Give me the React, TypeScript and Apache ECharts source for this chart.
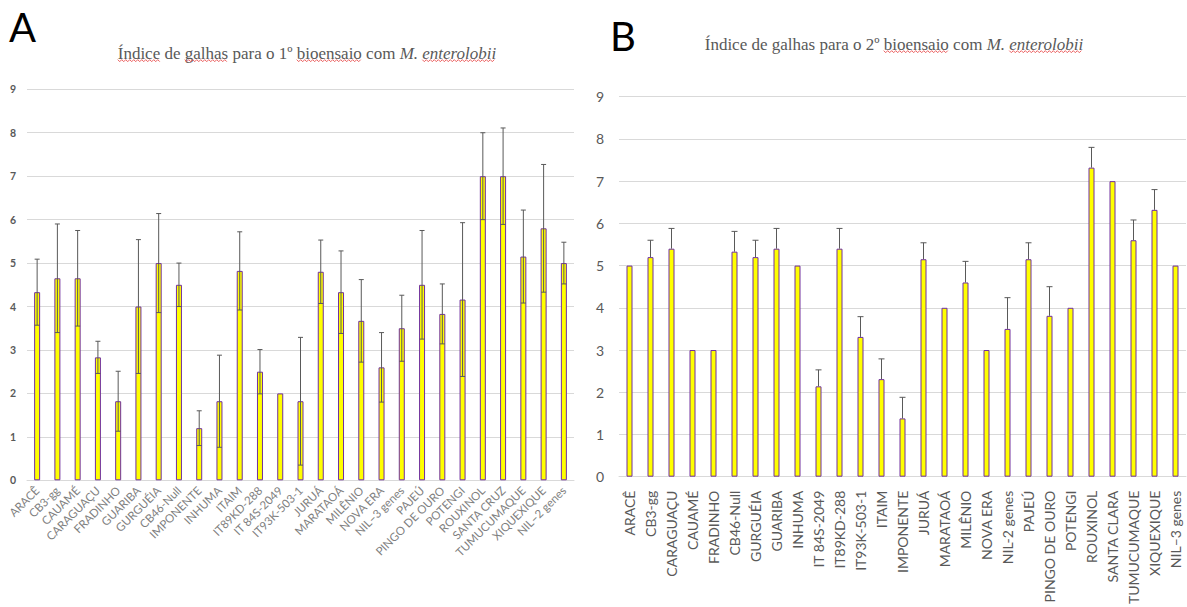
import React, { useEffect, useRef } from "react";
import * as echarts from "echarts";

const catsA = ["ARACÊ", "CB3-gg", "CAUAMÉ", "CARAGUAÇU", "FRADINHO", "GUARIBA", "GURGUÉIA", "CB46-Null", "IMPONENTE", "INHUMA", "ITAIM", "IT89KD-288", "IT 84S-2049", "IT93K-503-1", "JURUÁ", "MARATAOÁ", "MILÊNIO", "NOVA ERA", "NIL–3 genes", "PAJEÚ", "PINGO DE OURO", "POTENGI", "ROUXINOL", "SANTA CRUZ", "TUMUCUMAQUE", "XIQUEXIQUE", "NIL–2 genes"];
const valuesA = [4.33, 4.65, 4.65, 2.83, 1.82, 4.0, 5.0, 4.5, 1.2, 1.82, 4.82, 2.5, 2.0, 1.82, 4.8, 4.33, 3.67, 2.6, 3.5, 4.5, 3.83, 4.16, 7.0, 7.0, 5.15, 5.8, 5.0];
const errorsA = [0.76, 1.25, 1.1, 0.37, 0.69, 1.54, 1.14, 0.5, 0.4, 1.06, 0.9, 0.51, 0, 1.47, 0.73, 0.95, 0.95, 0.8, 0.76, 1.25, 0.69, 1.77, 1.0, 1.11, 1.07, 1.47, 0.48];

const catsB = ["ARACÊ", "CB3-gg", "CARAGUAÇU", "CAUAMÉ", "FRADINHO", "CB46-Null", "GURGUÉIA", "GUARIBA", "INHUMA", "IT 84S-2049", "IT89KD-288", "IT93K-503-1", "ITAIM", "IMPONENTE", "JURUÁ", "MARATAOÁ", "MILÊNIO", "NOVA ERA", "NIL-2 genes", "PAJEÚ", "PINGO DE OURO", "POTENGI", "ROUXINOL", "SANTA CLARA", "TUMUCUMAQUE", "XIQUEXIQUE", "NIL–3 genes"];
const valuesB = [5.0, 5.2, 5.4, 3.0, 3.0, 5.33, 5.2, 5.4, 5.0, 2.14, 5.4, 3.31, 2.31, 1.38, 5.15, 4.0, 4.6, 3.0, 3.5, 5.15, 3.81, 4.0, 7.32, 7.0, 5.6, 6.32, 5.0];
const errorsB = [0, 0.4, 0.48, 0, 0, 0.48, 0.4, 0.48, 0, 0.39, 0.48, 0.48, 0.48, 0.5, 0.39, 0, 0.5, 0, 0.74, 0.39, 0.69, 0, 0.48, 0, 0.48, 0.48, 0];

const yTicks = [0, 1, 2, 3, 4, 5, 6, 7, 8, 9];

const titleA = "Índice de galhas para o 1º bioensaio com ";
const titleB = "Índice de galhas para o 2º bioensaio com ";
const species = "M. enterolobii";
const flaggedA = ["Índice", "galhas", "bioensaio"];
const flaggedB = ["bioensaio"];

const TITLE_SIZE = 17;
const TITLE_FONT = "Liberation Serif";

function makeErrorRenderer(cap: number, both: boolean) {
  return (params: any, api: any) => {
    const x = api.value(0);
    const lo = api.value(1);
    const hi = api.value(2);
    const pLo = api.coord([x, lo]);
    const pHi = api.coord([x, hi]);
    const style = { stroke: "#595959", lineWidth: 1 };
    const children: any[] = [
      { type: "line", shape: { x1: pLo[0], y1: pLo[1], x2: pHi[0], y2: pHi[1] }, style },
      { type: "line", shape: { x1: pHi[0] - cap, y1: pHi[1], x2: pHi[0] + cap, y2: pHi[1] }, style },
    ];
    if (both) {
      children.push({ type: "line", shape: { x1: pLo[0] - cap, y1: pLo[1], x2: pLo[0] + cap, y2: pLo[1] }, style });
    }
    return { type: "group", children };
  };
}

function measure(text: string, italic: boolean): number {
  const c = document.createElement("canvas").getContext("2d");
  if (!c) return text.length * TITLE_SIZE * 0.45;
  c.font = (italic ? "italic " : "") + TITLE_SIZE + 'px "' + TITLE_FONT + '"';
  return c.measureText(text).width;
}

function squiggle(x0: number, x1: number, y: number) {
  const pts: number[][] = [];
  let up = true;
  for (let x = x0; x <= x1; x += 2) {
    pts.push([x, up ? y - 1 : y + 1]);
    up = !up;
  }
  return {
    type: "polyline",
    shape: { points: pts },
    style: { stroke: "#e84c4c", lineWidth: 0.9, fill: null },
    silent: true,
  };
}

function titleGraphics(prefix: string, flagged: string[], cx: number, cy: number) {
  const wPrefix = measure(prefix, false);
  const wSpecies = measure(species, true);
  const start = cx - (wPrefix + wSpecies) / 2;
  const lineY = cy + TITLE_SIZE * 0.45;
  const out: any[] = [
    {
      type: "text",
      x: start,
      y: cy,
      style: {
        text: "{a|" + prefix + "}{b|" + species + "}",
        rich: {
          a: { fontFamily: TITLE_FONT, fontSize: TITLE_SIZE, fill: "#595959", fontStyle: "normal" },
          b: { fontFamily: TITLE_FONT, fontSize: TITLE_SIZE, fill: "#595959", fontStyle: "italic" },
        },
        align: "left",
        verticalAlign: "middle",
      },
    },
  ];
  flagged.forEach((w) => {
    const idx = prefix.indexOf(w);
    if (idx < 0) return;
    const a = start + measure(prefix.slice(0, idx), false);
    const b = a + measure(w, false);
    out.push(squiggle(a, b, lineY));
  });
  const eIdx = species.indexOf("enterolobii");
  const ea = start + wPrefix + measure(species.slice(0, eIdx), true);
  out.push(squiggle(ea, start + wPrefix + wSpecies, lineY));
  return out;
}

export default function App() {
  const ref = useRef<HTMLDivElement>(null);
  useEffect(() => {
    if (!ref.current) return;
    const chart = echarts.init(ref.current, null, { renderer: "svg" });

    const errDataA = catsA
      .map((c, i) => [i, valuesA[i] - errorsA[i], valuesA[i] + errorsA[i]])
      .filter((d, i) => errorsA[i] > 0);
    const errDataB = catsB
      .map((c, i) => [i, valuesB[i], valuesB[i] + errorsB[i]])
      .filter((d, i) => errorsB[i] > 0);

    const gridLine = { show: true, lineStyle: { color: "#d9d9d9", width: 1 } };

    chart.setOption({
      animation: false,
      backgroundColor: "#ffffff",
      grid: [
        { left: 27, right: 613, top: 89.3, bottom: 126.7, containLabel: false },
        { left: 619, right: 1, top: 96.7, bottom: 122.7, containLabel: false },
      ],
      xAxis: [
        {
          type: "category",
          gridIndex: 0,
          data: catsA,
          axisLine: { show: true, lineStyle: { color: "#d9d9d9", width: 1 } },
          axisTick: { show: false },
          axisLabel: { interval: 0, rotate: 45, fontSize: 11.5, color: "#7f7f7f", fontFamily: "Lato", margin: 8 },
        },
        {
          type: "category",
          gridIndex: 1,
          data: catsB,
          axisLine: { show: true, lineStyle: { color: "#d9d9d9", width: 1 } },
          axisTick: { show: false },
          axisLabel: { interval: 0, rotate: 90, fontSize: 14, color: "#595959", fontFamily: "Lato", margin: 14 },
        },
      ],
      yAxis: [
        {
          type: "value",
          gridIndex: 0,
          min: yTicks[0],
          max: yTicks[yTicks.length - 1],
          interval: 1,
          axisLine: { show: false },
          axisTick: { show: false },
          splitLine: gridLine,
          axisLabel: { fontSize: 10.5, color: "#595959", fontFamily: "Lato", fontWeight: "bold", margin: 11 },
        },
        {
          type: "value",
          gridIndex: 1,
          min: yTicks[0],
          max: yTicks[yTicks.length - 1],
          interval: 1,
          axisLine: { show: false },
          axisTick: { show: false },
          splitLine: gridLine,
          axisLabel: { fontSize: 14, color: "#595959", fontFamily: "Lato", margin: 15 },
        },
      ],
      series: [
        {
          type: "bar",
          xAxisIndex: 0,
          yAxisIndex: 0,
          data: valuesA,
          barWidth: 6,
          itemStyle: { color: "#ffff00", borderColor: "#7030a0", borderWidth: 1 },
          z: 2,
        },
        {
          type: "custom",
          xAxisIndex: 0,
          yAxisIndex: 0,
          data: errDataA,
          renderItem: makeErrorRenderer(2.5, true),
          z: 5,
        },
        {
          type: "bar",
          xAxisIndex: 1,
          yAxisIndex: 1,
          data: valuesB,
          barWidth: 6,
          itemStyle: { color: "#ffff00", borderColor: "#7030a0", borderWidth: 1 },
          z: 2,
        },
        {
          type: "custom",
          xAxisIndex: 1,
          yAxisIndex: 1,
          data: errDataB,
          renderItem: makeErrorRenderer(3, false),
          z: 5,
        },
      ],
      graphic: [
        {
          type: "text",
          left: 9,
          top: 7,
          style: { text: "A", fontFamily: "Lato", fontSize: 40, fill: "#000000" },
        },
        {
          type: "text",
          left: 610,
          top: 16,
          style: { text: "B", fontFamily: "Lato", fontSize: 40, fill: "#000000" },
        },
        ...titleGraphics(titleA, flaggedA, 307, 53),
        ...titleGraphics(titleB, flaggedB, 894, 44),
      ],
    });
    return () => chart.dispose();
  }, []);
  return <div ref={ref} style={{ position: "fixed", left: 0, top: 0, width: 1187, height: 607 }} />;
}
